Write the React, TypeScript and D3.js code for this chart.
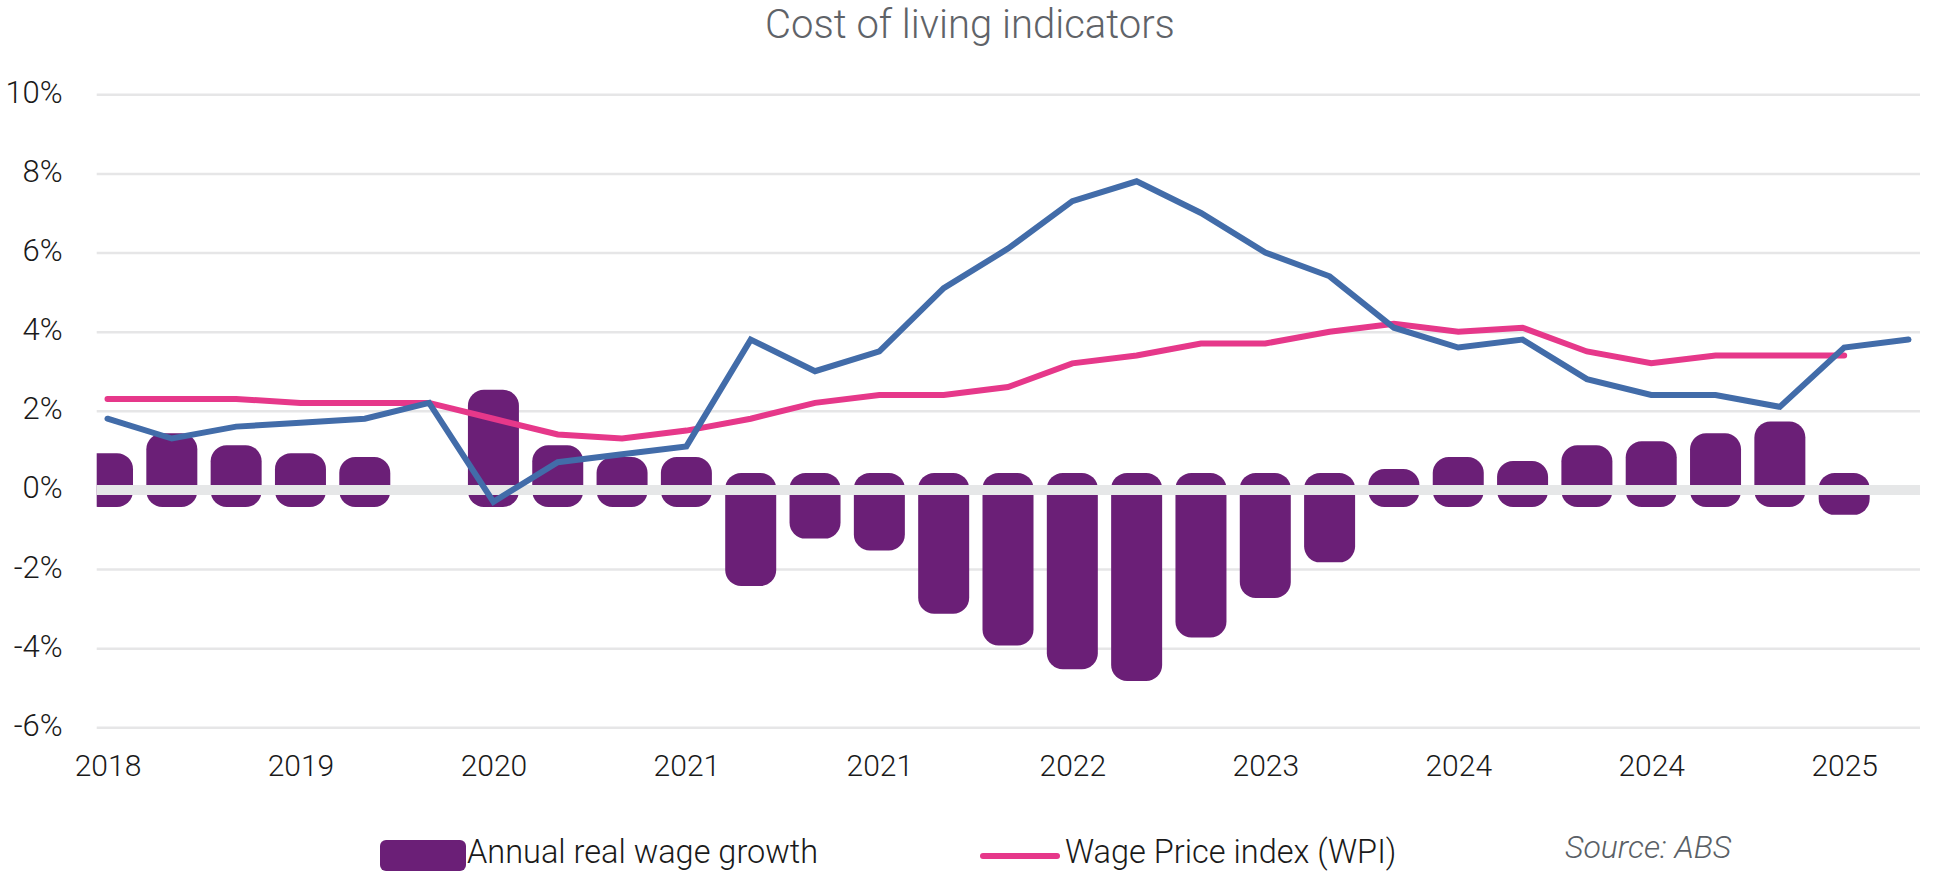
import React, { useEffect, useRef } from "react";
import * as d3 from "d3";

// quarterly, Dec 2018 .. Dec 2025
const quarters = [
  "Dec 2018", "Mar 2019", "Jun 2019", "Sep 2019", "Dec 2019", "Mar 2020", "Jun 2020",
  "Sep 2020", "Dec 2020", "Mar 2021", "Jun 2021", "Sep 2021", "Dec 2021", "Mar 2022",
  "Jun 2022", "Sep 2022", "Dec 2022", "Mar 2023", "Jun 2023", "Sep 2023", "Dec 2023",
  "Mar 2024", "Jun 2024", "Sep 2024", "Dec 2024", "Mar 2025", "Jun 2025", "Sep 2025",
  "Dec 2025",
];

// one label every third quarter
const tickLabels = ["2018", "2019", "2020", "2021", "2021", "2022", "2023", "2024", "2024", "2025"];

const yTicks = [-6, -4, -2, 0, 2, 4, 6, 8, 10];

// annual real wage growth (%), zero bars are not drawn
const realWageGrowth = [
  0.5, 1.0, 0.7, 0.5, 0.4, 0.0, 2.1, 0.7, 0.4, 0.4, -2.0, -0.8, -1.1, -2.7,
  -3.5, -4.1, -4.4, -3.3, -2.3, -1.4, 0.1, 0.4, 0.3, 0.7, 0.8, 1.0, 1.3, -0.2,
];

// Wage Price index (%)
const wpi = [
  2.3, 2.3, 2.3, 2.2, 2.2, 2.2, 1.8, 1.4, 1.3, 1.5, 1.8, 2.2, 2.4, 2.4,
  2.6, 3.2, 3.4, 3.7, 3.7, 4.0, 4.2, 4.0, 4.1, 3.5, 3.2, 3.4, 3.4, 3.4,
];

// CPI (%)
const cpi = [
  1.8, 1.3, 1.6, 1.7, 1.8, 2.2, -0.3, 0.7, 0.9, 1.1, 3.8, 3.0, 3.5, 5.1,
  6.1, 7.3, 7.8, 7.0, 6.0, 5.4, 4.1, 3.6, 3.8, 2.8, 2.4, 2.4, 2.1, 3.6, 3.8,
];

const W = 1933;
const H = 882;
const plotLeft = 96.7;
const plotRight = 1920;
const FONT = "Roboto, 'Open Sans', sans-serif";

const PURPLE = "#6b1f77";
const PINK = "#e6388a";
const BLUE = "#426ca9";
const GRID = "#e6e6e7";

const CostOfLivingChart = () => {
  const svgRef = useRef<SVGSVGElement>(null);

  useEffect(() => {
    const svg = d3.select(svgRef.current);
    svg.selectAll("*").remove();

    const x = d3.scalePoint<string>().domain(quarters).range([107.5, 1908.5]);
    const y = d3.scaleLinear().domain([-6, 10]).range([727.3, 94.3]);
    const y0 = y(0);

    svg
      .append("defs")
      .append("clipPath")
      .attr("id", "plot-clip")
      .append("rect")
      .attr("x", plotLeft)
      .attr("y", 0)
      .attr("width", plotRight - plotLeft)
      .attr("height", H);

    // title
    svg
      .append("text")
      .attr("x", 970)
      .attr("y", 38)
      .attr("text-anchor", "middle")
      .attr("font-family", FONT)
      .attr("font-weight", 300)
      .attr("font-size", 40)
      .attr("fill", "#5f6368")
      .text("Cost of living indicators");

    // y axis + gridlines
    const yAxis = svg
      .append("g")
      .attr("transform", `translate(${plotLeft},0)`)
      .call(
        d3
          .axisLeft(y)
          .tickValues(yTicks)
          .tickSize(-(plotRight - plotLeft))
          .tickPadding(34)
          .tickFormat((d) => `${d}%`)
      );
    yAxis.select(".domain").remove();
    yAxis.selectAll(".tick line").attr("stroke", GRID).attr("stroke-width", 2.5);
    yAxis
      .selectAll(".tick text")
      .attr("font-family", FONT)
      .attr("font-weight", 300)
      .attr("font-size", 31)
      .attr("fill", "#1a1a1a")
      .attr("dy", "0.26em");

    // x axis labels
    const xAxis = svg
      .append("g")
      .attr("transform", `translate(0,${y(-6)})`)
      .call(
        d3
          .axisBottom(x)
          .tickValues(quarters.filter((_, i) => i % 3 === 0))
          .tickSize(0)
          .tickPadding(27)
          .tickFormat((_, i) => tickLabels[i])
      );
    xAxis.select(".domain").remove();
    xAxis
      .selectAll(".tick text")
      .attr("font-family", FONT)
      .attr("font-weight", 300)
      .attr("font-size", 30)
      .attr("fill", "#1a1a1a");

    // bars
    const pad = 17;
    const barW = 51;
    svg
      .append("g")
      .attr("clip-path", "url(#plot-clip)")
      .selectAll("rect")
      .data(realWageGrowth.map((v, i) => ({ v, q: quarters[i] })).filter((d) => d.v !== 0))
      .join("rect")
      .attr("x", (d) => (x(d.q) as number) - barW / 2)
      .attr("width", barW)
      .attr("y", (d) => Math.min(y(d.v), y0) - pad)
      .attr("height", (d) => Math.abs(y(d.v) - y0) + pad * 2)
      .attr("rx", 16)
      .attr("fill", PURPLE);

    // zero line drawn over the bars
    svg
      .append("line")
      .attr("x1", plotLeft)
      .attr("x2", plotRight)
      .attr("y1", y0)
      .attr("y2", y0)
      .attr("stroke", "#e6e7e8")
      .attr("stroke-width", 10);

    const line = d3
      .line<number>()
      .x((_, i) => x(quarters[i]) as number)
      .y((d) => y(d));

    svg
      .append("path")
      .attr("d", line(wpi))
      .attr("fill", "none")
      .attr("stroke", PINK)
      .attr("stroke-width", 6)
      .attr("stroke-linecap", "round");

    svg
      .append("path")
      .attr("d", line(cpi))
      .attr("fill", "none")
      .attr("stroke", BLUE)
      .attr("stroke-width", 6)
      .attr("stroke-linecap", "round");

    // legend
    const legend = svg
      .append("g")
      .attr("font-family", FONT)
      .attr("font-weight", 300)
      .attr("font-size", 32.5)
      .attr("fill", "#1a1a1a");
    legend.append("rect").attr("x", 380).attr("y", 840).attr("width", 86).attr("height", 31).attr("rx", 6).attr("fill", PURPLE);
    legend.append("text").attr("x", 467).attr("y", 863).text("Annual real wage growth");
    legend
      .append("line")
      .attr("x1", 983)
      .attr("x2", 1057)
      .attr("y1", 856)
      .attr("y2", 856)
      .attr("stroke", PINK)
      .attr("stroke-width", 6)
      .attr("stroke-linecap", "round");
    legend.append("text").attr("x", 1065).attr("y", 863).text("Wage Price index (WPI)");

    svg
      .append("text")
      .attr("x", 1565)
      .attr("y", 858)
      .attr("font-family", FONT)
      .attr("font-weight", 300)
      .attr("font-size", 32)
      .attr("font-style", "italic")
      .attr("fill", "#5a5f66")
      .text("Source: ABS");
  }, []);

  return (
    <svg
      ref={svgRef}
      width={W}
      height={H}
      style={{ position: "absolute", left: 0, top: 0, background: "#fff" }}
    />
  );
};

export default function App() {
  return <CostOfLivingChart />;
}
